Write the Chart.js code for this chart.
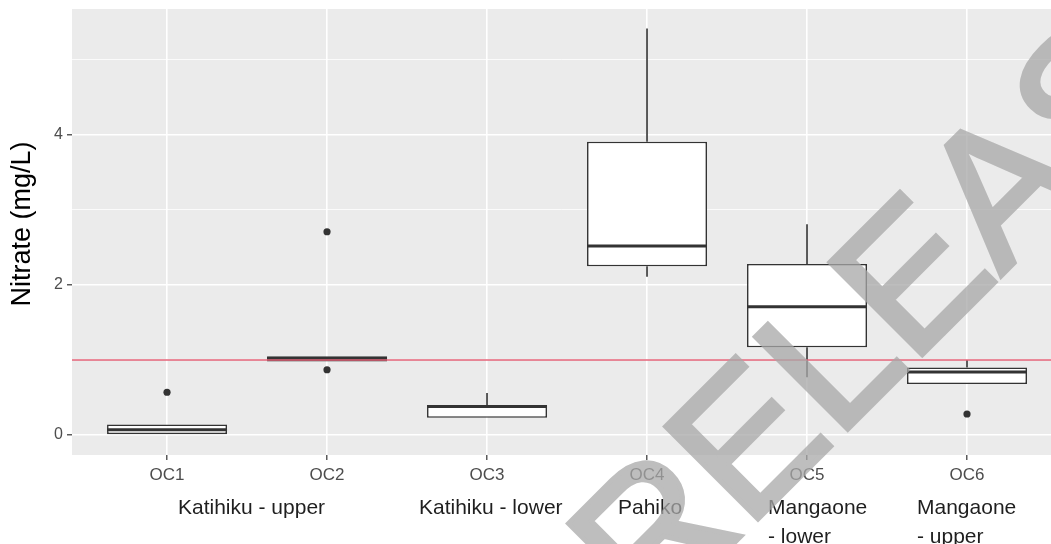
<!DOCTYPE html>
<html>
<head>
<meta charset="utf-8">
<script src="https://cdn.jsdelivr.net/npm/chart.js@4.4.1/dist/chart.umd.min.js"></script>
<style>
  html, body { margin: 0; padding: 0; background: #fff; }
  #wrap { width: 1051px; height: 544px; position: relative; }
</style>
</head>
<body>
<div id="wrap"><canvas id="myChart" width="1051" height="544"></canvas></div>
<script>
// sampling sites (x axis) and the five box-plot numbers for each
const categories = ['OC1', 'OC2', 'OC3', 'OC4', 'OC5', 'OC6'];
const whiskerLow = [0.00, 0.98, 0.23, 2.11, 0.77, 0.68];
const q1 = [0.00, 0.98, 0.23, 2.25, 1.17, 0.68];
const median = [0.07, 1.02, 0.38, 2.52, 1.71, 0.84];
const q3 = [0.14, 1.05, 0.40, 3.91, 2.28, 0.90];
const whiskerHigh = [0.14, 1.05, 0.56, 5.42, 2.81, 1.00];
const outliers = [[0.57], [2.71, 0.87], [], [], [], [0.28]];
const guideline = 1.0;
const yTickLabels = [0, 2, 4];
const yTitle = 'Nitrate (mg/L)';
const siteNames = [['Katihiku - upper'], ['Katihiku - lower'], ['Pahiko'], ['Mangaone', '- lower'], ['Mangaone', '- upper']];
const watermark = 'RELEASED';

// layout only
const siteNameLeft = [178, 419, 618, 768, 917];
const halfBox = 0.375;

Chart.defaults.font.family = '"Liberation Sans", Arial, sans-serif';

const boxData = categories.map((c, i) => ({ x: i, y: [q1[i], q3[i]] }));

const whiskerData = [];
categories.forEach((c, i) => {
  whiskerData.push({ x: i, y: q3[i] }, { x: i, y: whiskerHigh[i] }, { x: i, y: null });
  whiskerData.push({ x: i, y: whiskerLow[i] }, { x: i, y: q1[i] }, { x: i, y: null });
});

const medianData = [];
categories.forEach((c, i) => {
  medianData.push({ x: i - halfBox, y: median[i] }, { x: i + halfBox, y: median[i] }, { x: i, y: null });
});

const outlierData = [];
outliers.forEach((list, i) => list.forEach(v => outlierData.push({ x: i, y: v })));

const panelBg = {
  id: 'panelBg',
  beforeDraw(chart) {
    const { ctx, chartArea: a } = chart;
    ctx.save();
    ctx.fillStyle = '#ebebeb';
    ctx.fillRect(a.left, a.top, a.right - a.left, a.bottom - a.top);
    ctx.restore();
  }
};

const extras = {
  id: 'extras',
  afterDraw(chart) {
    const ctx = chart.ctx;

    // y axis title
    ctx.save();
    ctx.translate(23, 224);
    ctx.rotate(-Math.PI / 2);
    ctx.textAlign = 'center';
    ctx.textBaseline = 'middle';
    ctx.fillStyle = '#000';
    ctx.font = '27px "Liberation Sans", Arial, sans-serif';
    ctx.fillText(yTitle, 0, 0);
    ctx.restore();

    // site names under the axis
    ctx.save();
    ctx.fillStyle = '#1f1f1f';
    ctx.font = '21px "Liberation Sans", Arial, sans-serif';
    ctx.textBaseline = 'alphabetic';
    siteNames.forEach((lines, i) => {
      lines.forEach((t, j) => ctx.fillText(t, siteNameLeft[i], 514 + j * 29));
    });
    ctx.restore();

    // watermark
    const off = document.createElement('canvas');
    off.width = chart.width;
    off.height = chart.height;
    const o = off.getContext('2d');
    o.translate(650, 627);
    o.rotate(-Math.PI / 4);
    o.font = '190px "Liberation Sans", Arial, sans-serif';
    o.fillStyle = '#a8a8a8';
    o.strokeStyle = '#a8a8a8';
    o.lineWidth = 5;
    o.fillText(watermark, 0, 0);
    o.strokeText(watermark, 0, 0);
    ctx.save();
    ctx.globalAlpha = 0.75;
    ctx.drawImage(off, 0, 0);
    ctx.restore();
  }
};

const ctx = document.getElementById('myChart');

new Chart(ctx, {
  type: 'bar',
  data: {
    datasets: [
      {
        type: 'line',
        data: [{ x: -1, y: guideline }, { x: 7, y: guideline }],
        borderColor: '#e46378',
        borderWidth: 1.3,
        pointRadius: 0,
        order: 0
      },
      {
        type: 'line',
        data: outlierData,
        showLine: false,
        pointRadius: 3.6,
        pointBackgroundColor: '#333333',
        pointBorderWidth: 0,
        order: 1
      },
      {
        type: 'line',
        data: medianData,
        borderColor: '#333333',
        borderWidth: 3.2,
        pointRadius: 0,
        spanGaps: false,
        order: 2
      },
      {
        type: 'bar',
        data: boxData,
        backgroundColor: '#ffffff',
        borderColor: '#333333',
        borderWidth: 1.6,
        borderSkipped: false,
        barPercentage: 0.75,
        categoryPercentage: 1,
        order: 3
      },
      {
        type: 'line',
        data: whiskerData,
        borderColor: '#333333',
        borderWidth: 1.6,
        pointRadius: 0,
        spanGaps: false,
        order: 4
      }
    ]
  },
  options: {
    responsive: false,
    animation: false,
    events: [],
    layout: { padding: 0, autoPadding: false },
    plugins: {
      legend: { display: false },
      tooltip: { enabled: false }
    },
    scales: {
      x: {
        type: 'linear',
        min: -0.594,
        max: 5.525,
        offset: false,
        border: { display: false },
        grid: {
          offset: false,
          color: '#ffffff',
          lineWidth: 1.6,
          tickColor: '#333333',
          tickLength: 5,
          tickWidth: 1.2
        },
        ticks: {
          stepSize: 1,
          includeBounds: false,
          autoSkip: false,
          maxRotation: 0,
          padding: 5,
          color: '#4d4d4d',
          font: { size: 17 },
          callback: v => categories[v] ?? ''
        },
        afterFit: s => {
          s.height = 89;
          s.paddingLeft = 0;
          s.paddingRight = 0;
        }
      },
      y: {
        min: -0.2667,
        max: 5.68,
        border: { display: false },
        grid: {
          color: '#ffffff',
          lineWidth: c => (c.tick && c.tick.value % 2 === 0 ? 1.6 : 0.8),
          tickColor: c => (c.tick && c.tick.value % 2 === 0 ? '#333333' : 'rgba(0,0,0,0)'),
          tickLength: 5,
          tickWidth: 1.2
        },
        ticks: {
          stepSize: 1,
          includeBounds: false,
          autoSkip: false,
          padding: 4,
          color: '#4d4d4d',
          font: { size: 16 },
          callback: v => (yTickLabels.includes(v) ? String(v) : '')
        },
        afterFit: s => {
          s.width = 72;
          s.paddingTop = 9;
          s.paddingBottom = 0;
        }
      }
    }
  },
  plugins: [panelBg, extras]
});
</script>
</body>
</html>
